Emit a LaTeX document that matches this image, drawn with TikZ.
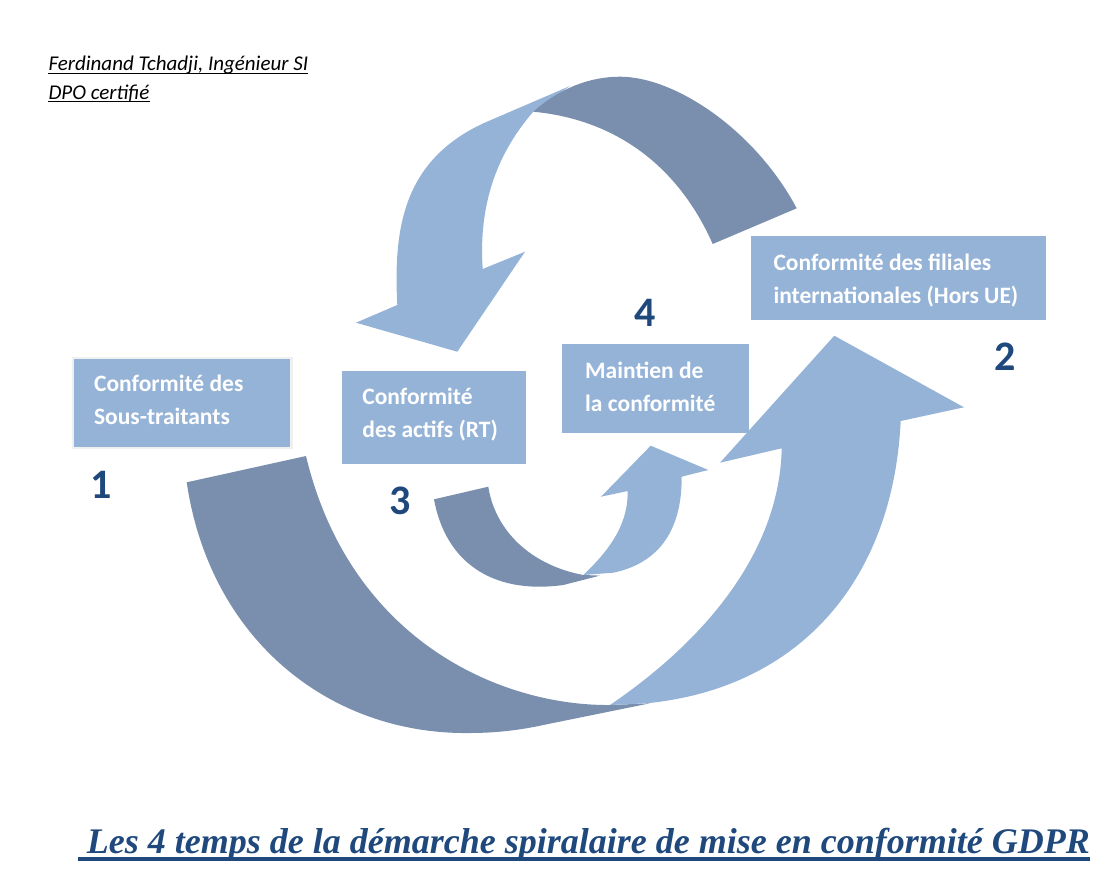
\documentclass[tikz,border=0pt]{standalone}
\usepackage{fontspec}
\setmainfont{Carlito}
\newfontfamily\titlefont{Liberation Serif}
\usetikzlibrary{positioning, calc}
\definecolor{SpiralDark}{HTML}{7A8FAE}
\definecolor{SpiralLight}{HTML}{95B3D7}
\definecolor{SpiralNavy}{HTML}{1F497D}

\begin{document}
\begin{tikzpicture}[x=1pt, y=-1pt,
    stage/.style 2 args={
      rectangle, fill=SpiralLight, text=white, anchor=north west,
      align=flush left, inner xsep=0pt, inner ysep=0pt,
      font=\fontsize{23.5}{33}\selectfont\bfseries,
      execute at begin node={\rule{0pt}{#1}},
      execute at end node={\rule[-#2]{0pt}{#2}}
    },
    stagenum/.style={
      text=SpiralNavy, anchor=base, inner sep=0pt,
      font=\fontsize{42}{42}\selectfont\bfseries
    },
    byline/.style={anchor=base west, inner sep=0pt, font=\fontsize{21}{24}\selectfont\itshape},
    underbar/.style={line width=1.2pt},
    darkband/.style={fill=SpiralDark},
    lightband/.style={fill=SpiralLight}
  ]
    \useasboundingbox (0,0) rectangle (1120,892);

    \node[byline] (author) at (48.3,70.7) {Ferdinand Tchadji, Ingénieur SI};
    \node[byline] (dpo) at (48.3,99) {DPO certifié};
    \draw[underbar] ($(author.base west)+(0,2.8)$) -- ($(author.base east)+(0,2.8)$);
    \draw[underbar] ($(dpo.base west)+(0,2.8)$) -- ($(dpo.base east)+(0,2.8)$);

    % top arrow (back to 3)
    \fill[lightband] (570,86) -- (483.3,123.3) .. controls (405,160) and (393,225) .. (397.3,305)
      -- (356,322.7) -- (457.3,351.7) -- (525,251.7) -- (482.7,269)
      .. controls (478,200) and (500,150) .. (533.3,111.7) -- cycle;
    \fill[darkband] (533.3,111.7) .. controls (560,88) and (590,76.7) .. (620,76.7)
      .. controls (675,76.7) and (755,130) .. (796.7,208.3) -- (712.7,244)
      .. controls (680,170) and (620,120) .. (533.3,111.7) -- cycle;

    % big arrow (1 to 2)
    \fill[darkband] (186.7,482.3) .. controls (210,640) and (330,735) .. (470,733)
      .. controls (500,733) and (525,729) .. (543.3,725) -- (650,703.3) -- (610,705)
      .. controls (500,706) and (350,640) .. (306,456) -- cycle;
    \fill[lightband] (610,705) .. controls (720,630) and (780,540) .. (781.7,448.3)
      -- (720,462.7) -- (834.3,335.7) -- (964,407.3) -- (900.7,421)
      .. controls (893,580) and (800,688) .. (646.7,703.3) -- cycle;

    % small arrow (3 to 4)
    \fill[lightband] (583.3,575) .. controls (615,545) and (628,520) .. (627.7,491)
      -- (601,496.7) -- (650.7,445.7) -- (708.3,470) -- (681.7,476.7)
      .. controls (682,540) and (650,565) .. (613.3,572.7) -- cycle;
    \fill[darkband] (434,499.3) .. controls (445,560) and (490,595) .. (563.3,585)
      -- (600,575.6) -- (583.3,575)
      .. controls (530,565) and (495,530) .. (488.3,486.7) -- cycle;

    \node[stage={18pt}{8.4pt}, draw=black!6, line width=2.5pt,
      minimum width=218.3pt, minimum height=90pt, text width=176pt]
      (sous) at (71.7,356.7) {Conformité des\\Sous-traitants};
    \node[stage={18pt}{11.3pt},
      minimum width=184pt, minimum height=92.3pt, text width=143pt]
      (actifs) at (341.7,371) {Conformité\\des~actifs~(RT)};
    \node[stage={18pt}{4.4pt},
      minimum width=187pt, minimum height=89.4pt, text width=141pt]
      (maintien) at (562,343.3) {Maintien de\\la~conformité};
    \node[stage={24.5pt}{6pt},
      minimum width=295pt, minimum height=84.5pt, text width=249pt]
      (filiales) at (750.3,235.5) {Conformité des filiales\\internationales~(Hors~UE)};

    \node[stagenum] (n1) at (101,498) {1};
    \node[stagenum] (n2) at (1005.5,370.7) {2};
    \node[stagenum] (n3) at (400,514) {3};
    \node[stagenum] (n4) at (644.7,326) {4};

    \node[anchor=base west, inner sep=0pt, text=SpiralNavy,
      font=\titlefont\fontsize{36}{40}\selectfont\bfseries\itshape]
      (title) at (86.7,853.5) {Les 4 temps de la démarche spiralaire de mise en conformité GDPR};
    \draw[SpiralNavy, line width=3.5pt] ($(title.base west)+(-8.4,5.5)$) -- ($(title.base east)+(0,5.5)$);
  \end{tikzpicture}
\end{document}
